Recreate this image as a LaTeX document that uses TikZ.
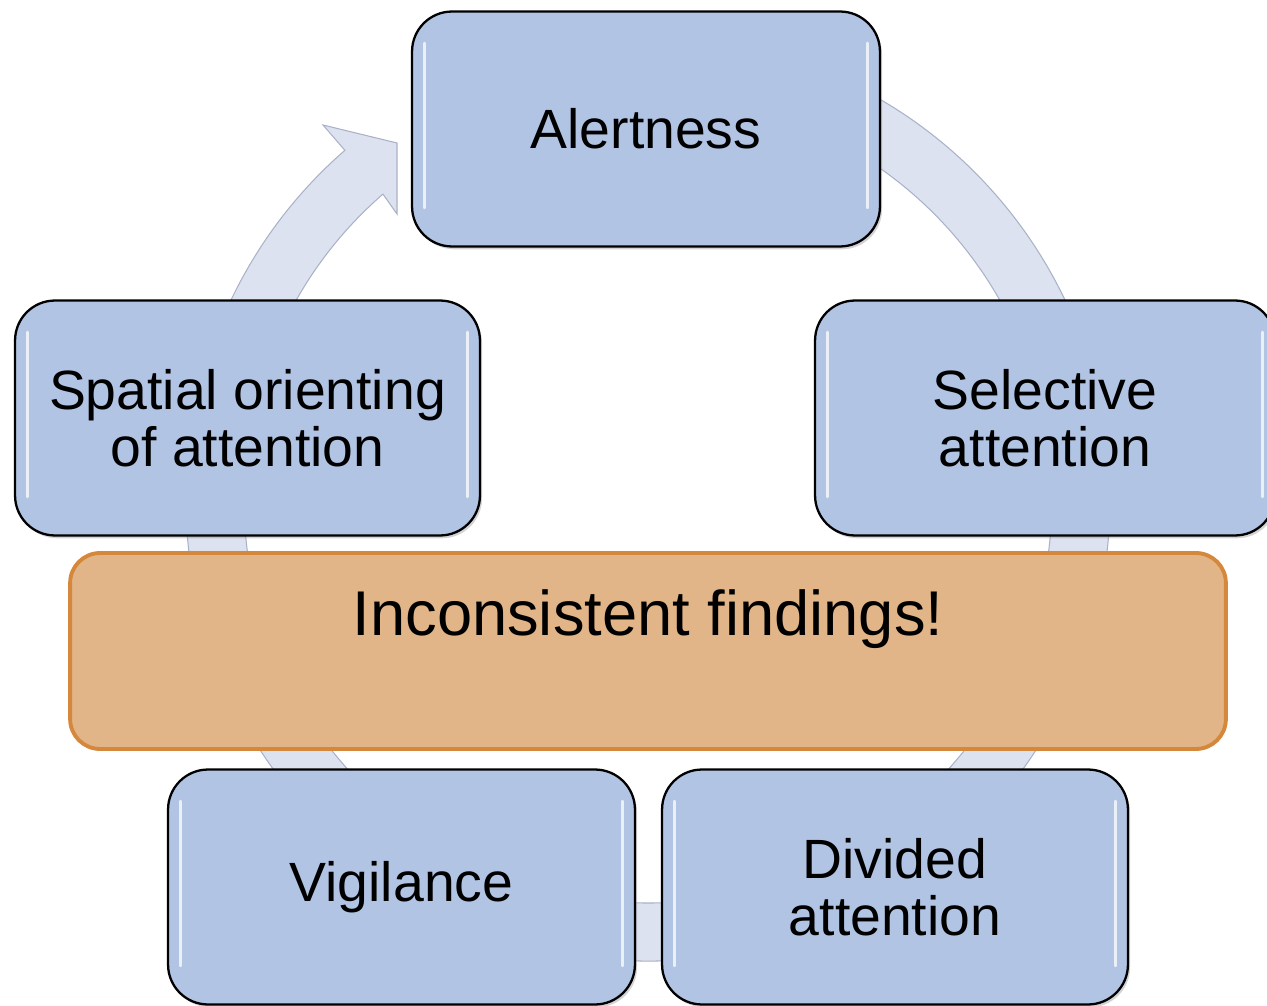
\documentclass[tikz,border=0pt]{standalone}
\usepackage{fontspec}
\setmainfont{Liberation Sans}
\usetikzlibrary{shadows,calc}
\definecolor{boxblue}{RGB}{177,196,227}
\definecolor{ringfill}{RGB}{221,226,240}
\definecolor{ringedge}{RGB}{170,178,200}
\definecolor{orfill}{RGB}{226,181,137}
\definecolor{oredge}{RGB}{213,135,60}
\begin{document}
\begin{tikzpicture}[x=0.02cm,y=-0.02cm,
  hl/.style={white, opacity=0.75, line width=1.6pt, line cap=round},
  cyclebox/.style={draw=black, line width=1.3pt, fill=boxblue,
    rounded corners=0.8cm, minimum height=4.7cm, align=center,
    inner sep=0pt, font=\fontsize{31.5}{32.4}\selectfont,
    drop shadow={opacity=0.35, shadow xshift=1.2pt, shadow yshift=-1.6pt},
    path picture={
      \draw[hl] ([shift={(7pt,-18pt)}]path picture bounding box.north west)
        -- ([shift={(7pt,22pt)}]path picture bounding box.south west);
      \draw[hl] ([shift={(-7pt,-18pt)}]path picture bounding box.north east)
        -- ([shift={(-7pt,22pt)}]path picture bounding box.south east);
    }},
  findbox/.style={draw=oredge, line width=2.2pt, fill=orfill,
    rounded corners=0.6cm, minimum width=23.12cm, minimum height=3.92cm,
    inner sep=0pt},
  findtext/.style={anchor=base, inner sep=0pt, font=\fontsize{36}{40}\selectfont},
  ringstyle/.style={fill=ringfill, draw=ringedge, line width=0.6pt}
]
\path[use as bounding box] (0,0) rectangle (1267,1006);
\clip (0,0) rectangle (1267,1006);

% cycle ring with arrowhead
\coordinate (C) at (648,499);
\path[ringstyle] ($(C)+(-80:462)$) arc[start angle=-80, end angle=229, radius=462]
  -- (323,125) -- (397,143) -- (397,214) -- ($(C)+(229:404)$)
  arc[start angle=229, end angle=-80, radius=404] -- cycle;

% boxes
\node[cyclebox, minimum width=9.36cm] (alert) at (646,129) {Alertness};
\node[cyclebox, minimum width=9.3cm] (spatial) at (247.5,418) {Spatial orienting\\of attention};
\node[cyclebox, minimum width=9.2cm] (select) at (1045,418) {Selective\\attention};
\node[cyclebox, minimum width=9.34cm] (vigil) at (401.5,887) {Vigilance};
\node[cyclebox, minimum width=9.32cm] (divid) at (895,887) {Divided\\attention};

% inconsistent findings box
\node[findbox] (incon) at (648,651) {};
\node[findtext] (incontext) at (648,635) {Inconsistent findings!};
\end{tikzpicture}
\end{document}
